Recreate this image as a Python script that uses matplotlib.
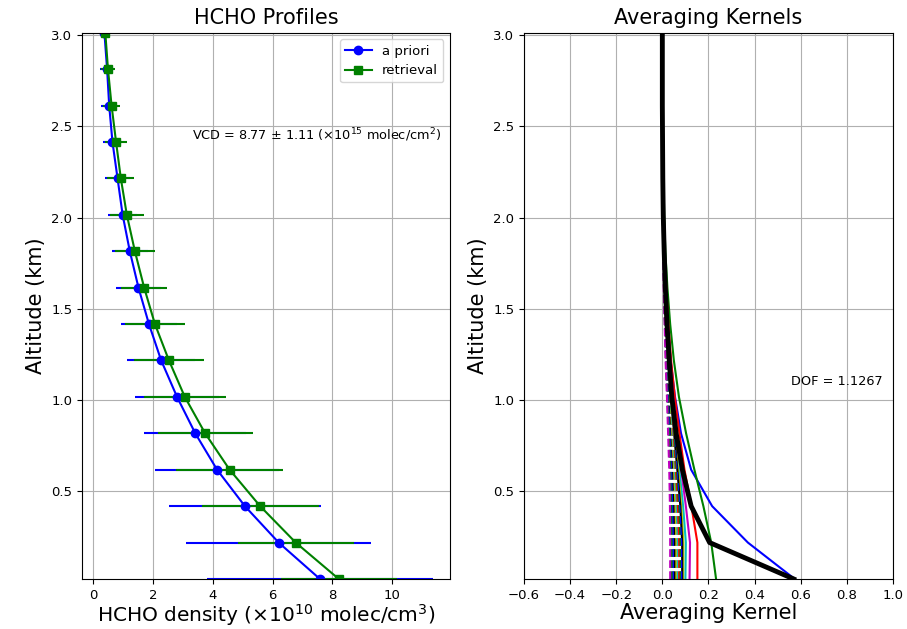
import numpy as np
import matplotlib.pyplot as plt

# altitude levels (km), bottom -> top
alt = [0.015, 0.215, 0.415, 0.615, 0.815, 1.015, 1.215, 1.415,
       1.615, 1.815, 2.015, 2.215, 2.415, 2.615, 2.815, 3.015]

# HCHO density (x1e10 molec/cm3)
apriori = [7.58, 6.20, 5.07, 4.14, 3.41, 2.80, 2.27, 1.86,
           1.51, 1.22, 0.98, 0.81, 0.64, 0.53, 0.46, 0.37]
apriori_err = [3.79, 3.10, 2.54, 2.07, 1.71, 1.40, 1.14, 0.93,
               0.76, 0.61, 0.49, 0.41, 0.32, 0.27, 0.23, 0.19]
retrieval = [8.21, 6.77, 5.58, 4.56, 3.74, 3.06, 2.53, 2.06,
             1.70, 1.39, 1.12, 0.92, 0.76, 0.61, 0.49, 0.40]
retrieval_err = [1.94, 1.94, 1.96, 1.78, 1.59, 1.38, 1.17, 1.00,
                 0.78, 0.66, 0.56, 0.45, 0.36, 0.29, 0.25, 0.12]

vcd = 8.77
vcd_err = 1.11
dof = 1.1267

# averaging kernels, one list per level (values bottom -> top)
ak_rows = [
    [0.574, 0.371, 0.216, 0.125, 0.081, 0.055, 0.036, 0.024, 0.015, 0.009, 0.005, 0.003, 0.002, 0.001, 0.0, 0.0],
    [0.233, 0.212, 0.178, 0.139, 0.103, 0.072, 0.050, 0.034, 0.022, 0.013, 0.008, 0.005, 0.003, 0.001, 0.0, 0.0],
    [0.152, 0.152, 0.126, 0.096, 0.074, 0.054, 0.038, 0.026, 0.017, 0.010, 0.006, 0.003, 0.002, 0.001, 0.0, 0.0],
    [0.100, 0.102, 0.090, 0.074, 0.058, 0.043, 0.031, 0.022, 0.014, 0.009, 0.005, 0.003, 0.002, 0.001, 0.0, 0.0],
    [0.118, 0.120, 0.102, 0.082, 0.063, 0.047, 0.034, 0.024, 0.016, 0.010, 0.006, 0.003, 0.002, 0.001, 0.0, 0.0],
    [0.090, 0.091, 0.082, 0.068, 0.054, 0.040, 0.029, 0.020, 0.013, 0.008, 0.005, 0.003, 0.001, 0.0, 0.0, 0.0],
    [0.086, 0.086, 0.078, 0.065, 0.051, 0.038, 0.027, 0.019, 0.012, 0.008, 0.004, 0.002, 0.001, 0.0, 0.0, 0.0],
    [0.082, 0.082, 0.074, 0.062, 0.049, 0.036, 0.026, 0.018, 0.012, 0.007, 0.004, 0.002, 0.001, 0.0, 0.0, 0.0],
    [0.076, 0.076, 0.069, 0.058, 0.046, 0.034, 0.025, 0.017, 0.011, 0.007, 0.004, 0.002, 0.001, 0.0, 0.0, 0.0],
    [0.070, 0.070, 0.064, 0.054, 0.043, 0.032, 0.023, 0.016, 0.010, 0.006, 0.004, 0.002, 0.001, 0.0, 0.0, 0.0],
    [0.064, 0.064, 0.058, 0.050, 0.040, 0.030, 0.021, 0.015, 0.010, 0.006, 0.003, 0.002, 0.001, 0.0, 0.0, 0.0],
    [0.058, 0.058, 0.053, 0.046, 0.037, 0.028, 0.020, 0.014, 0.009, 0.005, 0.003, 0.002, 0.001, 0.0, 0.0, 0.0],
    [0.052, 0.052, 0.048, 0.042, 0.034, 0.026, 0.019, 0.013, 0.008, 0.005, 0.003, 0.001, 0.001, 0.0, 0.0, 0.0],
    [0.046, 0.046, 0.043, 0.038, 0.031, 0.024, 0.017, 0.012, 0.008, 0.005, 0.003, 0.001, 0.0, 0.0, 0.0, 0.0],
    [0.040, 0.040, 0.038, 0.034, 0.028, 0.022, 0.016, 0.011, 0.007, 0.004, 0.002, 0.001, 0.0, 0.0, 0.0, 0.0],
    [0.034, 0.034, 0.033, 0.030, 0.025, 0.020, 0.014, 0.010, 0.006, 0.004, 0.002, 0.001, 0.0, 0.0, 0.0, 0.0],
]
ak_colors = ['b', 'g', 'r', 'c', 'm', 'y', 'k',
             'b', 'g', 'r', 'c', 'y', 'k', 'b', 'g', 'm']
ak_styles = ['-'] * 7 + ['--'] * 9

# column averaging kernel (thick black)
ak_total = [0.570, 0.205, 0.125, 0.087, 0.060, 0.041, 0.030, 0.020,
            0.013, 0.008, 0.004, 0.002, 0.001, 0.0, 0.0, 0.0]

plt.rcParams['xtick.labelsize'] = 9.5
plt.rcParams['ytick.labelsize'] = 9.5

fig = plt.figure(figsize=(9.07, 6.29), dpi=100)
ax1 = fig.add_axes([0.0904, 0.0795, 0.4057, 0.8685])
ax2 = fig.add_axes([0.5777, 0.0795, 0.4068, 0.8685])

# left: profiles
ax1.errorbar(apriori, alt, xerr=apriori_err, fmt='none', ecolor='b')
ax1.errorbar(retrieval, alt, xerr=retrieval_err, fmt='none', ecolor='g')
ax1.plot(apriori, alt, 'bo-', label='a priori')
ax1.plot(retrieval, alt, 'gs-', label='retrieval')
ax1.set_ylim(alt[0], alt[-1])
ax1.grid(True)
ax1.legend(loc='upper right', fontsize=9.5)
ax1.set_title('HCHO Profiles', fontsize=15)
ax1.set_xlabel(r'HCHO density ($\times10^{10}$ molec/cm$^3$)', fontsize=14.5, labelpad=0)
ax1.set_ylabel('Altitude (km)', fontsize=15)
ax1.text(3.3, 2.45, r'VCD = %.2f $\pm$ %.2f ($\times10^{15}$ molec/cm$^2$)' % (vcd, vcd_err),
         ha='left', va='center', fontsize=9.3)

# right: averaging kernels
for row, c, ls in zip(ak_rows, ak_colors, ak_styles):
    ax2.plot(row, alt, color=c, linestyle=ls, lw=1.5)
ax2.plot(ak_total, alt, 'k-', lw=3.5)
ax2.set_xlim(-0.6, 1.0)
ax2.set_ylim(alt[0], alt[-1])
ax2.grid(True)
ax2.set_title('Averaging Kernels', fontsize=15)
ax2.set_xlabel('Averaging Kernel', fontsize=15, labelpad=1)
ax2.set_ylabel('Altitude (km)', fontsize=15)
ax2.text(0.56, 1.1, 'DOF = %.4f' % dof, ha='left', va='center', fontsize=9.3)

fig.savefig('out.png', dpi=100)
